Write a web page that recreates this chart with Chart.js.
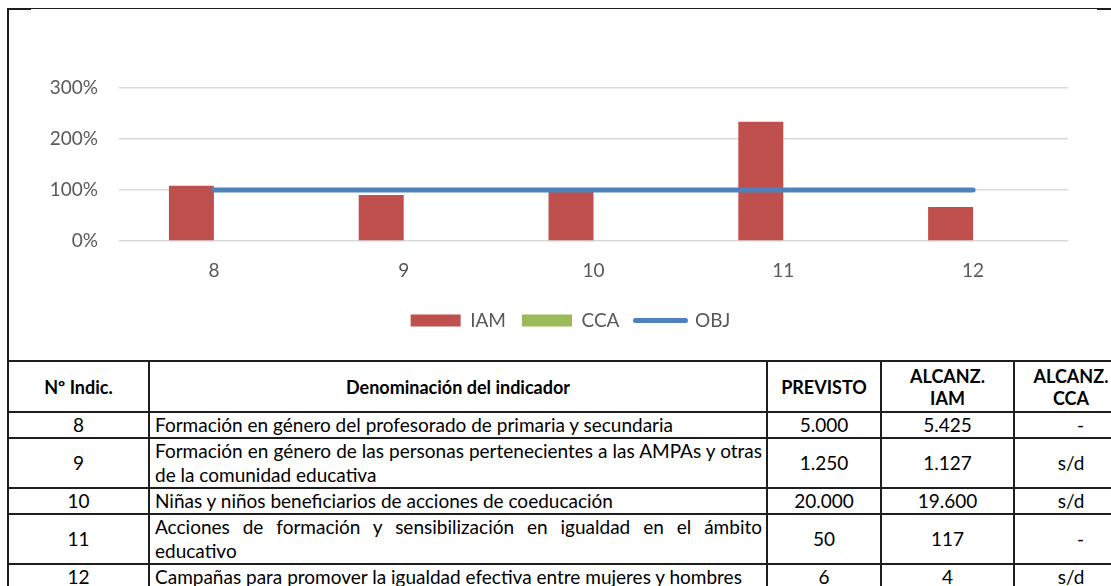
<!DOCTYPE html>
<html lang="es">
<head>
<meta charset="utf-8">
<title>Indicadores 8-12</title>
<script src="https://cdn.jsdelivr.net/npm/chart.js@4.4.1/dist/chart.umd.min.js"></script>
<style>
    html, body {
        margin: 0;
        padding: 0;
        background: #ffffff;
    }
    body {
        position: relative;
        width: 1111px;
        height: 586px;
        overflow: hidden;
        font-family: Lato, "Liberation Sans", sans-serif;
    }
    .frame-left { position: absolute; left: 7px; top: 8px; width: 2px; height: 578px; background: #1e1e1e; }
    .frame-top { position: absolute; left: 7px; top: 8px; width: 1104px; height: 1px; background: #1e1e1e; }
    .frame-tick { position: absolute; top: 8px; height: 2px; background: #1e1e1e; }
    #chartBox {
        position: absolute;
        left: 9px;
        top: 9px;
        width: 1102px;
        height: 351px;
    }
    table {
        position: absolute;
        left: 7px;
        top: 360px;
        border-collapse: collapse;
        table-layout: fixed;
        width: 1120px;
        font-size: 19px;
        color: #000;
    }
    td, th {
        border: 2px solid #1e1e1e;
        padding: 0 4px;
        vertical-align: middle;
        line-height: 24px;
        height: 24px;
    }
    th { font-weight: bold; font-size: 18px; text-align: center; height: 49px; line-height: 22px; }
    td.two { height: 48px; }
    td.num { text-align: center; }
    td.desc { padding-left: 5px; padding-right: 4px; }
    td.desc div { white-space: nowrap; }
    td.desc div.full { text-align: justify; text-align-last: justify; }
    td.dash { text-align: right; padding-right: 43px; }
</style>
</head>
<body>
<div class="frame-top"></div>
<div class="frame-left"></div>
<div class="frame-tick" style="left:7px;width:24px"></div>
<div class="frame-tick" style="left:1097px;width:14px"></div>

<div id="chartBox"><canvas id="indicChart"></canvas></div>

<table id="indicTable">
    <colgroup>
        <col style="width:141px">
        <col style="width:618px">
        <col style="width:114px">
        <col style="width:133px">
        <col style="width:114px">
    </colgroup>
    <thead>
        <tr>
            <th>Nº Indic.</th>
            <th>Denominación del indicador</th>
            <th>PREVISTO</th>
            <th>ALCANZ.<br>IAM</th>
            <th>ALCANZ.<br>CCA</th>
        </tr>
    </thead>
    <tbody id="indicBody"></tbody>
</table>

<script>
// ---- chart data (percent of target reached) ----
const categories = ['8', '9', '10', '11', '12'];
const iamValues = [108.5, 90.2, 98, 234, 66.7];
const ccaValues = [null, null, null, null, null];
const objValues = [100, 100, 100, 100, 100];
const yTickValues = [0, 100, 200, 300];

// ---- table data (descriptions split as printed) ----
const indicNumbers = ['8', '9', '10', '11', '12'];
const indicNames = [
    ['Formación en género del profesorado de primaria y secundaria'],
    ['Formación en género de las personas pertenecientes a las AMPAs y otras', 'de la comunidad educativa'],
    ['Niñas y niños beneficiarios de acciones de coeducación'],
    ['Acciones de formación y sensibilización en igualdad en el ámbito', 'educativo'],
    ['Campañas para promover la igualdad efectiva entre mujeres y hombres']
];
const previsto = ['5.000', '1.250', '20.000', '50', '6'];
const alcanzIam = ['5.425', '1.127', '19.600', '117', '4'];
const alcanzCca = ['-', 's/d', 's/d', '-', 's/d'];

const TEXT_GREY = '#595959';
const LEGEND_SHIFT = 32; // legend sits centred on the whole chart, not the plot

// Build table rows
function renderIndicTable() {
    const tbody = document.getElementById('indicBody');
    tbody.innerHTML = '';
    indicNumbers.forEach((num, i) => {
        const row = document.createElement('tr');
        const lines = indicNames[i];
        const two = lines.length > 1 ? ' two' : '';
        const ccaClass = alcanzCca[i] === '-' ? 'dash' : 'num';
        const descHtml = lines.map((line, k) =>
            `<div class="${k < lines.length - 1 ? 'full' : ''}">${line}</div>`
        ).join('');
        row.innerHTML = `
            <td class="num${two}">${num}</td>
            <td class="desc${two}">${descHtml}</td>
            <td class="num${two}">${previsto[i]}</td>
            <td class="num${two}">${alcanzIam[i]}</td>
            <td class="${ccaClass}${two}">${alcanzCca[i]}</td>
        `;
        tbody.appendChild(row);
    });
}

// Shift the legend sideways after layout
const legendShiftPlugin = {
    id: 'legendShift',
    afterLayout(chart) {
        if (chart.legend) {
            chart.legend.left += LEGEND_SHIFT;
            chart.legend.right += LEGEND_SHIFT;
        }
    }
};

// Build chart
function initIndicChart() {
    const ctx = document.getElementById('indicChart');
    Chart.defaults.font.family = 'Lato, "Liberation Sans", sans-serif';

    new Chart(ctx, {
        type: 'bar',
        data: {
            labels: categories,
            datasets: [
                {
                    label: 'IAM',
                    data: iamValues,
                    backgroundColor: '#c0504d',
                    categoryPercentage: 0.474,
                    barPercentage: 1.0,
                    order: 1
                },
                {
                    label: 'CCA',
                    data: ccaValues,
                    backgroundColor: '#9bbb59',
                    categoryPercentage: 0.474,
                    barPercentage: 1.0,
                    order: 1
                },
                {
                    label: 'OBJ',
                    type: 'line',
                    data: objValues,
                    borderColor: '#4f81bd',
                    backgroundColor: '#4f81bd',
                    borderWidth: 5,
                    borderCapStyle: 'round',
                    pointRadius: 0,
                    order: 0
                }
            ]
        },
        plugins: [legendShiftPlugin],
        options: {
            responsive: true,
            maintainAspectRatio: false,
            animation: false,
            layout: {
                padding: { left: 0, right: 43, top: 79, bottom: 20 }
            },
            plugins: {
                title: { display: false },
                tooltip: { enabled: false },
                legend: {
                    display: true,
                    position: 'bottom',
                    labels: {
                        usePointStyle: true,
                        pointStyleWidth: 50,
                        boxHeight: 12,
                        padding: 16,
                        color: TEXT_GREY,
                        font: { size: 19 },
                        generateLabels: function(chart) {
                            return chart.data.datasets.map((ds, i) => ({
                                text: ds.label,
                                fillStyle: ds.backgroundColor,
                                strokeStyle: ds.type === 'line' ? ds.borderColor : ds.backgroundColor,
                                lineWidth: ds.type === 'line' ? 5 : 0,
                                lineCap: 'round',
                                pointStyle: ds.type === 'line' ? 'line' : 'rect',
                                fontColor: TEXT_GREY,
                                hidden: false,
                                datasetIndex: i
                            }));
                        }
                    }
                }
            },
            scales: {
                x: {
                    grid: { display: false },
                    border: { display: false },
                    ticks: {
                        color: TEXT_GREY,
                        font: { size: 19 },
                        padding: 10
                    },
                    afterFit: function(scale) {
                        scale.height = 54;
                    }
                },
                y: {
                    min: yTickValues[0],
                    max: yTickValues[yTickValues.length - 1],
                    grid: {
                        color: '#d9d9d9',
                        lineWidth: 1.5,
                        drawTicks: false
                    },
                    border: { display: false },
                    ticks: {
                        stepSize: yTickValues[1] - yTickValues[0],
                        color: TEXT_GREY,
                        font: { size: 19 },
                        padding: 21,
                        callback: function(value) {
                            return value + '%';
                        }
                    },
                    afterFit: function(scale) {
                        scale.width = 110;
                    }
                }
            }
        }
    });
}

renderIndicTable();
initIndicChart();
</script>
</body>
</html>
